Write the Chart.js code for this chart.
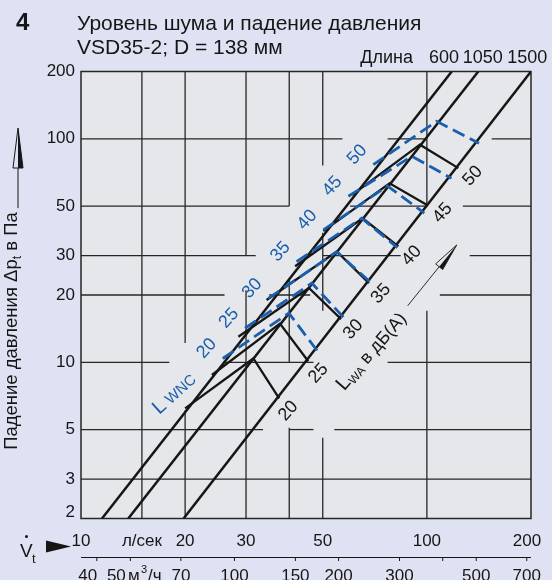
<!DOCTYPE html>
<html>
<head>
<meta charset="utf-8">
<script src="https://cdn.jsdelivr.net/npm/chart.js@4.4.1/dist/chart.umd.min.js"></script>
<style>
  html, body { margin: 0; padding: 0; background: #dfe2f2; }
  #wrap { width: 552px; height: 580px; position: relative; }
</style>
</head>
<body>
<div id="wrap"><canvas id="chart" width="552" height="580"></canvas></div>
<script>
// Noise level and pressure drop nomogram, VSD35-2, D = 138 mm
const FONT = "'Liberation Sans', Arial, sans-serif";
const BLUE = '#1a5eae';
const INK = '#161616';

// duct length lines (dp ~ V^2), read at bottom (2 Pa) and top (200 Pa)
const lengthLabels = ['600', '1050', '1500'];
const lengthLabelV = [112, 145, 195];
const lineP = [2, 200];
const line600V = [11.5, 118];
const line1050V = [13.7, 140.8];
const line1500V = [19.8, 200];

// sound levels
const levels = ['20', '25', '30', '35', '40', '45', '50'];
// L_WA (black): start on 600 line, corner on 1050 line, end on 1500 line
const waStartV = [20.0, 23.9, 28.5, 34.4, 41.6, 50.2, 60.8];
const waStartP = [6.22, 8.77, 13.0, 19.0, 26.9, 38.6, 56.1];
const waCornerV = [31.5, 37.6, 45.6, 54.9, 65.2, 78.0, 95.5];
const waCornerP = [10.4, 14.9, 21.5, 31.3, 44.1, 63.2, 94.1];
const waEndV = [37.4, 45.4, 56.5, 68.0, 82.7, 100.7, 123.3];
const waEndP = [6.90, 10.1, 15.6, 22.6, 33.0, 50.3, 73.9];
// L_WNC (blue dashed)
const wncStartV = [25.7, 29.8, 34.8, 42.0, 50.2, 59.3, 70.0];
const wncStartP = [10.4, 14.2, 19.3, 28.2, 39.1, 55.3, 76.6];
const wncCornerV = [39.9, 46.5, 54.9, 64.8, 76.9, 90.4, 106.7];
const wncCornerP = [16.6, 22.6, 31.2, 44.1, 61.5, 83.5, 119.7];
const wncEndV = [48.3, 57.4, 68.7, 82.2, 98.3, 117.8, 141.5];
const wncEndP = [11.2, 15.9, 22.8, 32.6, 46.5, 66.6, 95.6];

// axes
const yTicks = [200, 100, 50, 30, 20, 10, 5, 3, 2];
const xTicks = [10, 15, 20, 30, 50, 100, 200];
const xTickLabels = ['10', 'л/сек', '20', '30', '50', '100', '200'];
const m3hTicks = [40, 50, 70, 100, 150, 200, 300, 400, 500, 700];
const m3hLabels = ['40', '50', '70', '100', '150', '200', '300', '', '500', '700'];

// grid lines, drawn in pieces (gaps around the diagram)
const gridV = [15, 20, 30, 40, 50, 100];
const gridVRuns = [
  [[2, 200]],
  [[12.2, 200], [2, 6.1]],
  [[30, 200], [2, 21]],
  [[50, 200], [10, 23.4], [2, 5.1]],
  [[76, 200], [17, 38], [2, 4.6]],
  [[50, 200], [2, 17]]
];
const gridP = [100, 50, 30, 20, 10, 5, 3];
const gridPRuns = [
  [[10, 57], [77, 100], [154, 200]],
  [[10, 40], [60, 100], [127, 200]],
  [[10, 32], [50, 84], [133, 200]],
  [[10, 26], [35, 46], [109, 200]],
  [[10, 18], [26, 47], [77, 200]],
  [[10, 33.6], [40, 47], [54, 200]],
  [[10, 200]]
];

// L_WA caption and arrow
const waCaption = { x: 69, y: 11.2 };
const waArrowV = [88, 122];
const waArrowP = [17.9, 33.5];

function pts(vs, ps) { return vs.map((v, i) => ({ x: v, y: ps[i] })); }

const datasets = [];
[line600V, line1050V, line1500V].forEach(vs => {
  datasets.push({ data: pts(vs, lineP), borderColor: INK, borderWidth: 2.5, order: 3 });
});
levels.forEach((l, i) => {
  datasets.push({
    data: pts([waStartV[i], waCornerV[i], waEndV[i]], [waStartP[i], waCornerP[i], waEndP[i]]),
    borderColor: INK, borderWidth: 2.3, order: 2
  });
  datasets.push({
    data: pts([wncStartV[i], wncCornerV[i], wncEndV[i]], [wncStartP[i], wncCornerP[i], wncEndP[i]]),
    borderColor: BLUE, borderWidth: 2.8, borderDash: [13, 6], order: 1
  });
});
datasets.forEach(d => { d.showLine = true; d.pointRadius = 0; d.fill = false; d.borderCapStyle = 'butt'; });

function rotText(ctx, txt, px, py, ang, size, color) {
  ctx.save();
  ctx.translate(px, py);
  ctx.rotate(ang);
  ctx.font = size + 'px ' + FONT;
  ctx.fillStyle = color;
  ctx.textAlign = 'center';
  ctx.textBaseline = 'middle';
  ctx.fillText(txt, 0, 0);
  ctx.restore();
}

// pieces: [text, size, dy]
function richText(ctx, pieces, px, py, ang, color) {
  ctx.save();
  ctx.translate(px, py);
  ctx.rotate(ang);
  ctx.fillStyle = color;
  ctx.textBaseline = 'alphabetic';
  ctx.textAlign = 'left';
  let w = 0;
  pieces.forEach(p => { ctx.font = p[1] + 'px ' + FONT; w += ctx.measureText(p[0]).width; });
  let cx = -w / 2;
  pieces.forEach(p => {
    ctx.font = p[1] + 'px ' + FONT;
    ctx.fillText(p[0], cx, 6 + p[2]);
    cx += ctx.measureText(p[0]).width;
  });
  ctx.restore();
  return w;
}

function halfArrow(ctx, x0, y0, x1, y1, len, half) {
  const dx = x1 - x0, dy = y1 - y0, d = Math.hypot(dx, dy);
  const ux = dx / d, uy = dy / d, nx = -uy, ny = ux;
  const bx = x1 - ux * len, by = y1 - uy * len;
  ctx.beginPath(); ctx.moveTo(x0, y0); ctx.lineTo(bx, by); ctx.stroke();
  ctx.beginPath();
  ctx.moveTo(x1, y1); ctx.lineTo(bx + nx * half, by + ny * half);
  ctx.lineTo(bx - nx * half, by - ny * half); ctx.closePath(); ctx.stroke();
  ctx.beginPath();
  ctx.moveTo(x1, y1); ctx.lineTo(bx, by); ctx.lineTo(bx + nx * half, by + ny * half);
  ctx.closePath(); ctx.fill();
}

const nomogram = {
  id: 'nomogram',
  beforeDatasetsDraw(chart) {
    const { ctx, chartArea: a, scales: { x, y } } = chart;
    ctx.save();
    ctx.fillStyle = '#e6e7ea';
    ctx.fillRect(a.left, a.top, a.right - a.left, a.bottom - a.top);
    ctx.strokeStyle = '#262626';
    ctx.lineWidth = 1.3;
    gridV.forEach((v, i) => {
      const px = x.getPixelForValue(v);
      gridVRuns[i].forEach(r => {
        ctx.beginPath();
        ctx.moveTo(px, y.getPixelForValue(r[0]));
        ctx.lineTo(px, y.getPixelForValue(r[1]));
        ctx.stroke();
      });
    });
    gridP.forEach((p, i) => {
      const py = y.getPixelForValue(p);
      gridPRuns[i].forEach(r => {
        ctx.beginPath();
        ctx.moveTo(x.getPixelForValue(r[0]), py);
        ctx.lineTo(x.getPixelForValue(r[1]), py);
        ctx.stroke();
      });
    });
    ctx.lineWidth = 1.5;
    ctx.strokeRect(a.left, a.top, a.right - a.left, a.bottom - a.top);
    ctx.restore();
  },
  afterDraw(chart) {
    const { ctx, chartArea: a, scales: { x, y } } = chart;
    ctx.save();
    ctx.fillStyle = INK;
    ctx.strokeStyle = INK;

    // title
    ctx.textBaseline = 'alphabetic';
    ctx.textAlign = 'left';
    ctx.font = 'bold 24px ' + FONT;
    ctx.fillText('4', 16, 30);
    ctx.font = '21px ' + FONT;
    ctx.fillText('Уровень шума и падение давления', 77, 30);
    ctx.fillText('VSD35-2; D = 138 мм', 77, 54);

    // length labels
    ctx.font = '18px ' + FONT;
    ctx.textAlign = 'right';
    ctx.fillText('Длина', 413, 63);
    ctx.textAlign = 'center';
    lengthLabels.forEach((t, i) => ctx.fillText(t, x.getPixelForValue(lengthLabelV[i]), 63));

    // y tick labels
    ctx.font = '17px ' + FONT;
    ctx.textAlign = 'right';
    ctx.textBaseline = 'middle';
    yTicks.forEach(v => {
      const py = Math.min(y.getPixelForValue(v), a.bottom - 6);
      ctx.fillText(String(v), 75, py);
    });

    // x tick labels (l/s)
    ctx.textAlign = 'center';
    xTicks.forEach((v, i) => {
      let px = x.getPixelForValue(v);
      if (i === xTicks.length - 1) px -= 4;
      ctx.fillText(xTickLabels[i], px, 541);
    });

    // second axis m3/h
    ctx.lineWidth = 1;
    ctx.beginPath(); ctx.moveTo(a.left, 557.5); ctx.lineTo(a.right, 557.5); ctx.stroke();
    ctx.textBaseline = 'alphabetic';
    m3hTicks.forEach((m, i) => {
      const px = x.getPixelForValue(m / 3.6);
      ctx.beginPath(); ctx.moveTo(px, 557); ctx.lineTo(px, 561); ctx.stroke();
      let lx = px;
      if (m === 40) lx = px - 9;
      if (m === 50) lx = px - 14;
      if (m3hLabels[i]) ctx.fillText(m3hLabels[i], lx, 581);
    });
    ctx.textAlign = 'left';
    ctx.fillText('м', 128, 581);
    ctx.font = '11px ' + FONT;
    ctx.fillText('3', 141, 573);
    ctx.font = '17px ' + FONT;
    ctx.fillText('/ч', 148, 581);

    // V̇t arrow
    ctx.font = '19px ' + FONT;
    ctx.fillText('V', 20, 557);
    ctx.beginPath(); ctx.arc(26.5, 536.5, 1.5, 0, Math.PI * 2); ctx.fill();
    ctx.font = '13px ' + FONT;
    ctx.fillText('t', 32, 563);
    ctx.beginPath(); ctx.moveTo(46, 540.5); ctx.lineTo(71, 546.5); ctx.lineTo(46, 552.5); ctx.closePath(); ctx.fill();

    // y axis title and arrow
    const tw = richText(ctx, [['Падение давления Δp', 18.5, 0], ['t', 12.5, 4], [' в Па', 18.5, 0]], 11, 331, -Math.PI / 2, INK);
    ctx.lineWidth = 1;
    halfArrow(ctx, 18, 331 - tw / 2 - 4, 18, 128, 40, 5);

    // level labels
    const ang = -48 * Math.PI / 180;
    levels.forEach((l, i) => {
      const sx = x.getPixelForValue(wncStartV[i]), sy = y.getPixelForValue(wncStartP[i]);
      rotText(ctx, l, sx - 16, sy - 10, ang, 18, BLUE);
      const ex = x.getPixelForValue(waEndV[i]), ey = y.getPixelForValue(waEndP[i]);
      const cx = x.getPixelForValue(waCornerV[i]), cy = y.getPixelForValue(waCornerP[i]);
      const d = Math.hypot(ex - cx, ey - cy);
      rotText(ctx, l, ex + (ex - cx) / d * 17, ey + (ey - cy) / d * 15, ang, 18, INK);
    });

    // L_WNC caption
    const lx = x.getPixelForValue(waStartV[0]), ly = y.getPixelForValue(waStartP[0]);
    richText(ctx, [['L', 20, 0], [' WNC', 15, 0]], lx - 11, ly - 15, -42 * Math.PI / 180, BLUE);

    // L_WA caption and arrow
    richText(ctx, [['L', 20, 0], ['WA', 12, 3], [' в дБ(A)', 18, 0]],
      x.getPixelForValue(waCaption.x), y.getPixelForValue(waCaption.y), -49 * Math.PI / 180, INK);
    ctx.lineWidth = 0.9;
    halfArrow(ctx, x.getPixelForValue(waArrowV[0]), y.getPixelForValue(waArrowP[0]),
      x.getPixelForValue(waArrowV[1]), y.getPixelForValue(waArrowP[1]), 28, 4.5);
    ctx.restore();
  }
};

new Chart(document.getElementById('chart'), {
  type: 'scatter',
  data: { datasets: datasets },
  options: {
    responsive: false,
    animation: false,
    devicePixelRatio: 1,
    layout: { padding: { left: 81, right: 21, top: 71.5, bottom: 61.5 } },
    plugins: { legend: { display: false }, tooltip: { enabled: false } },
    scales: {
      x: { type: 'logarithmic', min: 10, max: 200, display: false },
      y: { type: 'logarithmic', min: 2, max: 200, display: false }
    }
  },
  plugins: [nomogram]
});
</script>
</body>
</html>
